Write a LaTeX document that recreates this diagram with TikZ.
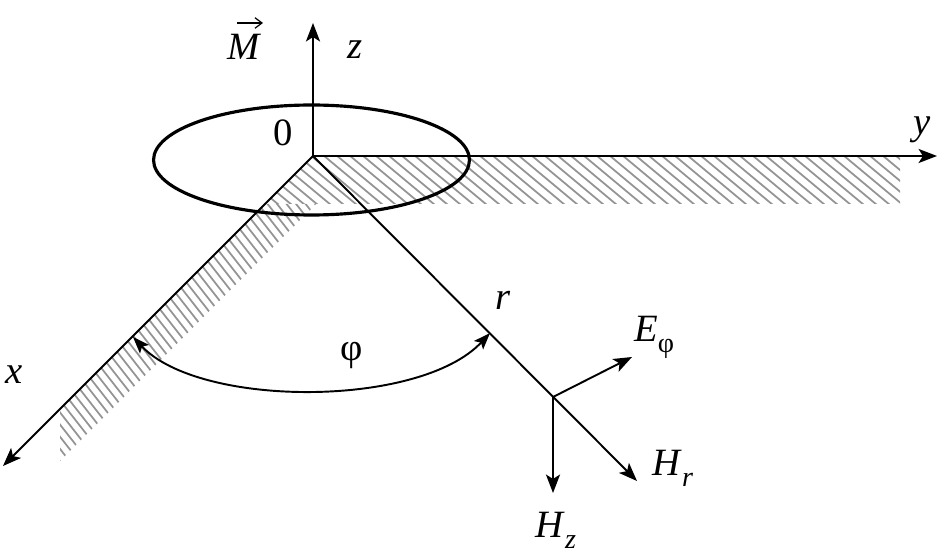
\documentclass[tikz,border=0pt]{standalone}
\usepackage{fontspec}
\setmainfont{Liberation Serif}
\usetikzlibrary{arrows.meta,shapes.geometric}
\begin{document}
\begin{tikzpicture}[x=0.02cm,y=-0.02cm,
  axis/.style={line width=1.1pt,-{Stealth[length=10.5pt,width=8pt,inset=2.5pt]}},
  small/.style={line width=1.1pt,{Stealth[length=9.5pt,width=7pt,inset=2pt]}-{Stealth[length=9.5pt,width=7pt,inset=2pt]}},
  vecarrow/.style={line width=0.7pt,-{Straight Barb[length=4pt,width=6pt]}},
  hatch/.style={draw=black!42,line width=1pt},
  lbl/.style={inner sep=0pt,font=\fontsize{22}{26}\selectfont}]
\useasboundingbox (0,0) rectangle (939,560);
% hatching, y band
\begin{scope}
\clip (313,156) -- (900,156) -- (900,204) -- (264,204) -- cycle;
\foreach \i in {200,213,...,930} \draw[hatch] ({\i},150) -- ({\i+66},205);
\end{scope}
% hatching, x band
\begin{scope}
\clip (264,204) -- (316,204) -- (60,461) -- (60,409) -- cycle;
\foreach \i in {-220,-210.5,...,340} \draw[hatch] ({\i},200) -- ({\i+211},470);
\end{scope}
% points
\coordinate (O) at (313,156);
\coordinate (Z) at (313,23);
\coordinate (Y) at (937,156);
\coordinate (X) at (3,466);
\coordinate (P) at (553,397);
\coordinate (Hr) at (637,481);
\coordinate (Hz) at (553,493);
\coordinate (E) at (632,357);
\coordinate (A) at (133,337);
\coordinate (B) at (490,333);
% axes
\draw[axis] (O) -- (Z);
\draw[axis] (O) -- (Y);
\draw[axis] (O) -- (X);
\draw[axis] (O) -- (Hr);
\draw[axis] (P) -- (Hz);
\draw[axis] (P) -- (E);
% loop
\node[draw,ellipse,line width=1.8pt,minimum width=6.32cm,minimum height=2.2cm,inner sep=0pt] (loop) at (311.5,160) {};
% angle
\draw[small] (A) .. controls (200,408) and (420,408) .. (B);
% labels
\node[lbl] (lM) at (244,47) {\textit{M}};
\draw[vecarrow] ([shift={(-7,-11)}]lM.north) -- ([shift={(19,-11)}]lM.north);
\node[lbl] (lz) at (355,50) {\textit{z}};
\node[lbl] (l0) at (283,133) {0};
\node[lbl] (ly) at (922,130) {\textit{y}};
\node[lbl] (lx) at (14,375) {\textit{x}};
\node[lbl] (lr) at (503,300) {\textit{r}};
\node[lbl] (lphi) at (352,355) {φ};
\node[lbl,anchor=west] (lE) at (634,337) {\textit{E}\raisebox{-0.28em}{\fontsize{16}{16}\selectfont φ}};
\node[lbl,anchor=west] (lHr) at (652,468) {\textit{H}\raisebox{-0.28em}{\fontsize{16}{16}\selectfont\textit{r}}};
\node[lbl,anchor=west] (lHz) at (535,530) {\textit{H}\raisebox{-0.28em}{\fontsize{16}{16}\selectfont\textit{z}}};
\end{tikzpicture}
\end{document}
